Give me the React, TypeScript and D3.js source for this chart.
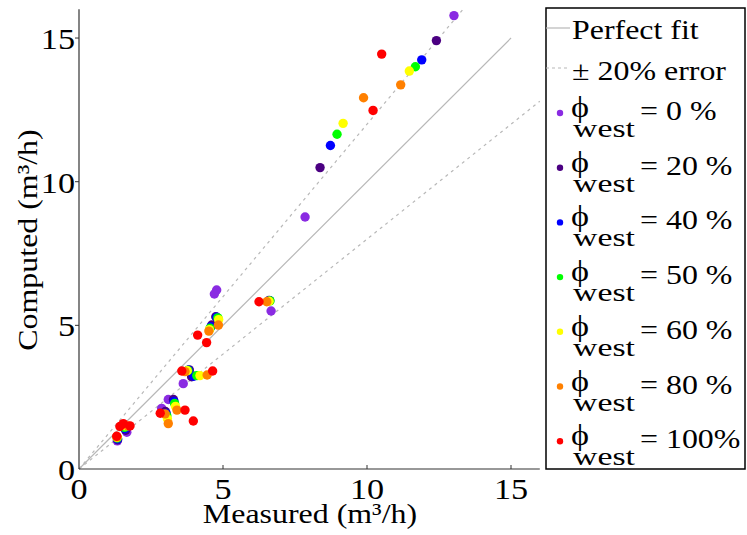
import React from 'react';
import * as d3 from 'd3';

const seriesLabels = ['= 0 %', '= 20 %', '= 40 %', '= 50 %', '= 60 %', '= 80 %', '= 100%'];
const seriesColors = ['#8a2be2', '#4b0082', '#0000ff', '#00ff00', '#ffff00', '#ff8000', '#ff0000'];
const xTicks = [0, 5, 10, 15];
const yTicks = [0, 5, 10, 15];

const phi0: [number, number][] = [[13.02, 15.78], [7.85, 8.77], [6.67, 5.50], [4.78, 6.23], [4.70, 6.09], [3.62, 2.97], [3.10, 2.42], [2.87, 2.11], [1.33, 0.98], [1.66, 1.28]];
const phi20: [number, number][] = [[12.41, 14.91], [8.37, 10.49], [6.60, 5.87], [4.75, 5.30], [4.61, 5.01], [3.83, 3.45], [3.91, 3.21], [3.28, 2.42], [3.00, 2.00], [1.34, 1.02], [1.62, 1.35]];
const phi40: [number, number][] = [[11.90, 14.24], [8.73, 11.26], [6.62, 5.86], [4.78, 5.28], [4.58, 4.95], [3.80, 3.44], [3.98, 3.23], [3.30, 2.35], [3.03, 1.93], [1.34, 1.05], [1.60, 1.40]];
const phi50: [number, number][] = [[11.68, 14.00], [8.96, 11.65], [6.63, 5.85], [4.82, 5.26], [4.55, 4.90], [3.78, 3.43], [4.09, 3.25], [3.32, 2.28], [3.05, 1.85], [1.33, 1.08], [1.58, 1.45]];
const phi60: [number, number][] = [[11.47, 13.85], [9.17, 12.03], [6.60, 5.84], [4.85, 5.20], [4.53, 4.85], [3.76, 3.42], [4.20, 3.25], [3.35, 2.18], [3.07, 1.75], [1.32, 1.10], [1.60, 1.50]];
const phi80: [number, number][] = [[11.17, 13.37], [9.88, 12.92], [6.52, 5.82], [4.84, 5.01], [4.51, 4.80], [3.68, 3.39], [4.45, 3.27], [3.40, 2.05], [3.10, 1.58], [2.99, 1.92], [1.32, 1.12], [1.70, 1.50]];
const phi100: [number, number][] = [[10.51, 14.44], [10.21, 12.48], [6.25, 5.82], [4.12, 4.66], [4.43, 4.40], [3.57, 3.41], [4.64, 3.41], [3.68, 2.05], [3.97, 1.67], [2.82, 1.94], [1.31, 1.14], [1.42, 1.48], [1.54, 1.58], [1.77, 1.50]];

const allSeries = [phi0, phi20, phi40, phi50, phi60, phi80, phi100];

const FONT = '"Liberation Serif", "Times New Roman", serif';
const SX = 1.14;

function T({ x, y, anchor = 'start', size = 28, rotate = 0, children }: any) {
  const tr = `translate(${x},${y})${rotate ? ` rotate(${rotate})` : ''} scale(${SX},1)`;
  return (
    <text transform={tr} textAnchor={anchor} fontFamily={FONT} fontSize={size} fill="#000">
      {children}
    </text>
  );
}

export default function App() {
  const W = 747, H = 535;
  const x = d3.scaleLinear().domain([0, 16]).range([79, 539.8]);
  const y = d3.scaleLinear().domain([0, 16]).range([469, 9.3]);
  const line = d3.line<[number, number]>().x(d => x(d[0])).y(d => y(d[1]));
  const gray = '#b8b8b8';

  const perfect: [number, number][] = [[0, 0], [15, 15]];
  const upper: [number, number][] = [[0, 0], [16 / 1.2, 16]];
  const lower: [number, number][] = [[0, 0], [16, 16 * 0.8]];

  const legX = 546, legY = 8, legW = 199, legH = 461;
  const entryBase = 120, entryStep = 54.7;
  const lx = 571;

  return (
    <svg width={W} height={H} style={{ position: 'absolute', left: 0, top: 0, background: '#fff' }}>
      <rect x={0} y={0} width={W} height={H} fill="#fff" />
      {/* reference lines */}
      <path d={line(perfect) || ''} stroke={gray} strokeWidth={1.2} fill="none" />
      <path d={line(upper) || ''} stroke={gray} strokeWidth={1.2} fill="none" strokeDasharray="3,4" />
      <path d={line(lower) || ''} stroke={gray} strokeWidth={1.2} fill="none" strokeDasharray="3,4" />
      {/* points */}
      {allSeries.map((s, i) => (
        <g key={i}>
          {s.map((d, j) => (
            <circle key={j} cx={x(d[0])} cy={y(d[1])} r={4.7} fill={seriesColors[i]} />
          ))}
        </g>
      ))}
      {/* axes */}
      <line x1={x(0)} x2={x(16)} y1={y(0)} y2={y(0)} stroke="#333" strokeWidth={1.2} />
      <line x1={x(0)} x2={x(0)} y1={y(0)} y2={y(16)} stroke="#333" strokeWidth={1.2} />
      {xTicks.filter(t => t > 0).map(t => (
        <line key={'xt' + t} x1={x(t)} x2={x(t)} y1={y(0)} y2={y(0) - 4} stroke="#333" strokeWidth={1} />
      ))}
      {yTicks.filter(t => t > 0).map(t => (
        <line key={'yt' + t} x1={x(0) - 4} x2={x(0)} y1={y(t)} y2={y(t)} stroke="#333" strokeWidth={1} />
      ))}
      {xTicks.map(t => (
        <T key={'xl' + t} x={x(t)} y={499} anchor="middle" size={30}>{String(t)}</T>
      ))}
      {yTicks.map(t => (
        <T key={'yl' + t} x={75} y={y(t) + 11} anchor="end" size={30}>{String(t)}</T>
      ))}
      <T x={310} y={523} anchor="middle" size={28}>Measured (m³/h)</T>
      <T x={37} y={240} anchor="middle" size={28} rotate={-90}>Computed (m³/h)</T>
      {/* legend */}
      <rect x={legX} y={legY} width={legW} height={legH} fill="#fff" stroke="#000" strokeWidth={1.5} />
      <line x1={legX} x2={570} y1={28} y2={28} stroke={gray} strokeWidth={1.2} />
      <T x={572} y={39}>Perfect fit</T>
      <line x1={legX} x2={570} y1={68} y2={68} stroke={gray} strokeWidth={1.2} strokeDasharray="3,3" />
      <T x={572} y={80}>± 20% error</T>
      {seriesLabels.map((lab, i) => {
        const b = entryBase + entryStep * i;
        return (
          <g key={'leg' + i}>
            <circle cx={560} cy={b - 7} r={3.2} fill={seriesColors[i]} />
            <text transform={`translate(${lx},${b}) scale(${SX},1)`} fontFamily={FONT} fill="#000" fontSize={28}>
              <tspan fontSize={30} dy={-3}>ϕ</tspan>
              <tspan x={(573 - lx) / SX} dy={20} fontSize={25} textLength={62 / SX} lengthAdjust="spacingAndGlyphs">west</tspan>
              <tspan x={(640 - lx) / SX} dy={-17} fontSize={28}>{lab}</tspan>
            </text>
          </g>
        );
      })}
    </svg>
  );
}
